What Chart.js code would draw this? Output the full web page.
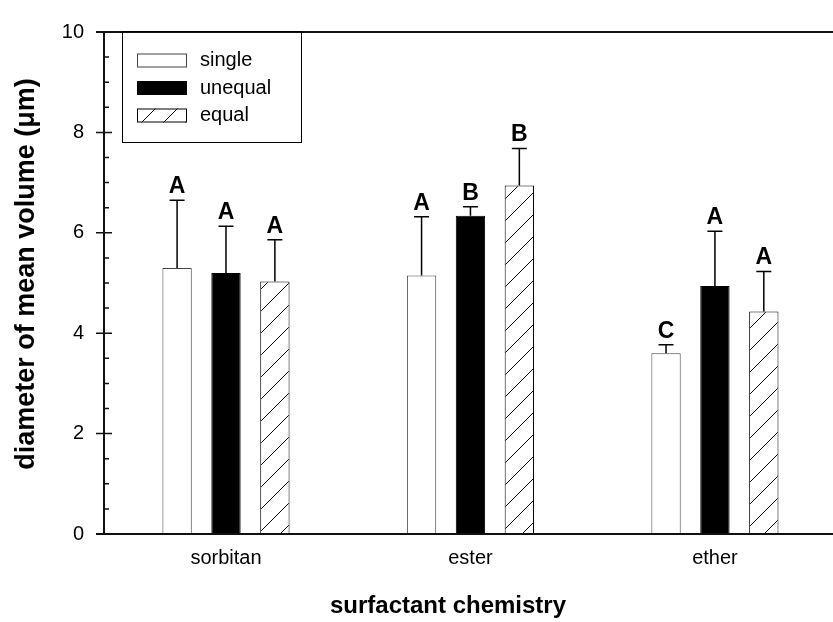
<!DOCTYPE html>
<html>
<head>
<meta charset="utf-8">
<script src="https://cdn.jsdelivr.net/npm/chart.js@4/dist/chart.umd.min.js"></script>
<style>
  html, body { margin: 0; padding: 0; background: #fff; }
  canvas { display: block; }
</style>
</head>
<body>
<canvas id="grafico" width="833" height="622"></canvas>
<script>
// dados:
const categorias = ["sorbitan", "ester", "ether"];
const series = ["single", "unequal", "equal"];
const mediaSingle = [5.30, 5.15, 3.60];
const mediaUnequal = [5.20, 6.34, 4.94];
const mediaEqual = [5.03, 6.94, 4.43];
const erroSingle = [1.35, 1.17, 0.17];
const erroUnequal = [0.93, 0.18, 1.09];
const erroEqual = [0.83, 0.74, 0.80];
const letrasSingle = ["A", "A", "C"];
const letrasUnequal = ["A", "B", "A"];
const letrasEqual = ["A", "B", "A"];
const ticksY = [0, 2, 4, 6, 8, 10];
const tituloX = "surfactant chemistry";
const tituloY = "diameter of mean volume (\u03bcm)";

const FONTE = '"Liberation Sans", Arial, sans-serif';

// hachura diagonal para a série "equal"
function criarHachura() {
  const tam = 22;
  const c = document.createElement("canvas");
  c.width = tam;
  c.height = tam;
  const g = c.getContext("2d");
  g.fillStyle = "#ffffff";
  g.fillRect(0, 0, tam, tam);
  g.strokeStyle = "#000000";
  g.lineWidth = 1;
  g.beginPath();
  g.moveTo(-2, tam + 2);
  g.lineTo(tam + 2, -2);
  g.stroke();
  return g.createPattern(c, "repeat");
}

const hachura = criarHachura();

function pontos(valores) {
  return valores.map((v, i) => ({ x: i + 1, y: v }));
}

// barras de erro (só para cima) e letras de significância
const pluginErros = {
  id: "erros",
  afterDatasetsDraw(chart) {
    const { ctx } = chart;
    const y = chart.scales.y;
    ctx.save();
    chart.data.datasets.forEach((ds, i) => {
      const meta = chart.getDatasetMeta(i);
      meta.data.forEach((barra, j) => {
        const topo = y.getPixelForValue(ds.data[j].y + ds.erros[j]);
        ctx.strokeStyle = "#000000";
        ctx.lineWidth = 1.5;
        ctx.beginPath();
        ctx.moveTo(barra.x, barra.y);
        ctx.lineTo(barra.x, topo);
        ctx.moveTo(barra.x - 7.5, topo);
        ctx.lineTo(barra.x + 7.5, topo);
        ctx.stroke();

        ctx.fillStyle = "#000000";
        ctx.font = "bold 23px " + FONTE;
        ctx.textAlign = "center";
        ctx.textBaseline = "alphabetic";
        ctx.fillText(ds.letras[j], barra.x, topo - 7);
      });
    });
    ctx.restore();
  },
};

// eixos com marcas maiores cruzando e menores para dentro, linha superior
const pluginEixos = {
  id: "eixos",
  afterDraw(chart) {
    const { ctx, chartArea } = chart;
    const y = chart.scales.y;
    const esq = chartArea.left;
    const dir = chart.width;
    ctx.save();
    ctx.strokeStyle = "#111111";
    ctx.lineWidth = 2;
    ctx.beginPath();
    ctx.moveTo(esq, chartArea.top);
    ctx.lineTo(esq, chartArea.bottom);
    ctx.moveTo(esq - 8, chartArea.top);
    ctx.lineTo(dir, chartArea.top);
    ctx.moveTo(esq - 8, chartArea.bottom);
    ctx.lineTo(dir, chartArea.bottom);
    ctx.stroke();

    ctx.lineWidth = 1.5;
    ctx.beginPath();
    for (let v = 0; v <= 10; v += 0.5) {
      const py = y.getPixelForValue(v);
      if (v % 2 === 0) {
        ctx.moveTo(esq - 8, py);
        ctx.lineTo(esq + 8, py);
      } else {
        ctx.moveTo(esq, py);
        ctx.lineTo(esq + 5, py);
      }
    }
    ctx.stroke();

    // títulos dos eixos
    ctx.fillStyle = "#000000";
    ctx.textAlign = "center";
    ctx.textBaseline = "middle";
    ctx.font = "bold 24px " + FONTE;
    ctx.fillText(tituloX, 448, 606);
    ctx.save();
    ctx.translate(27, 274);
    ctx.rotate(-Math.PI / 2);
    ctx.font = "bold 27px " + FONTE;
    ctx.fillText(tituloY, 0, 0);
    ctx.restore();
    ctx.restore();
  },
};

// legenda em caixa no canto superior esquerdo
const pluginLegenda = {
  id: "legendaCaixa",
  afterDraw(chart) {
    const { ctx } = chart;
    ctx.save();
    ctx.strokeStyle = "#000000";
    ctx.lineWidth = 1;
    ctx.strokeRect(122.5, 31.5, 179, 111);
    chart.data.datasets.forEach((ds, i) => {
      const cy = 60.5 + i * 27.5;
      ctx.fillStyle = ds.backgroundColor;
      ctx.fillRect(137, cy - 7, 50, 14);
      ctx.strokeStyle = ds.borderColor;
      ctx.lineWidth = 1;
      ctx.strokeRect(137.5, cy - 6.5, 49, 13);
      ctx.fillStyle = "#000000";
      ctx.font = "20px " + FONTE;
      ctx.textAlign = "left";
      ctx.textBaseline = "middle";
      ctx.fillText(ds.label, 200, cy);
    });
    ctx.restore();
  },
};

function gerarGrafico() {
  const config = {
    type: "bar",
    data: {
      datasets: [
        {
          label: series[0],
          data: pontos(mediaSingle),
          erros: erroSingle,
          letras: letrasSingle,
          backgroundColor: "#ffffff",
          borderColor: "#444444",
          borderWidth: 1,
        },
        {
          label: series[1],
          data: pontos(mediaUnequal),
          erros: erroUnequal,
          letras: letrasUnequal,
          backgroundColor: "#000000",
          borderColor: "#000000",
          borderWidth: 1,
        },
        {
          label: series[2],
          data: pontos(mediaEqual),
          erros: erroEqual,
          letras: letrasEqual,
          backgroundColor: hachura,
          borderColor: "#000000",
          borderWidth: 1,
        },
      ],
    },
    options: {
      responsive: false,
      animation: false,
      events: [],
      layout: { padding: { top: 23, right: 0, bottom: 0, left: 0 } },
      datasets: {
        bar: { categoryPercentage: 0.6, barPercentage: 0.6 },
      },
      plugins: {
        legend: { display: false },
        tooltip: { enabled: false },
      },
      scales: {
        x: {
          type: "linear",
          offset: false,
          min: 0.501,
          max: 3.483,
          afterBuildTicks: (scale) => {
            scale.ticks = categorias.map((c, i) => ({ value: i + 1 }));
          },
          afterFit: (scale) => {
            scale.height = 88;
          },
          grid: { display: false, drawTicks: false, offset: false },
          border: { display: false },
          ticks: {
            padding: 12,
            color: "#000000",
            font: { size: 20, family: FONTE },
            callback: (v) => categorias[v - 1],
          },
        },
        y: {
          min: 0,
          max: 10,
          afterBuildTicks: (scale) => {
            scale.ticks = ticksY.map((v) => ({ value: v }));
          },
          afterFit: (scale) => {
            scale.width = 104;
          },
          grid: { display: false, drawTicks: false },
          border: { display: false },
          ticks: {
            padding: 20,
            color: "#000000",
            font: { size: 20, family: FONTE },
          },
        },
      },
    },
    plugins: [pluginErros, pluginEixos, pluginLegenda],
  };

  return new Chart(document.getElementById("grafico"), config);
}

addEventListener("load", gerarGrafico);
</script>
</body>
</html>
